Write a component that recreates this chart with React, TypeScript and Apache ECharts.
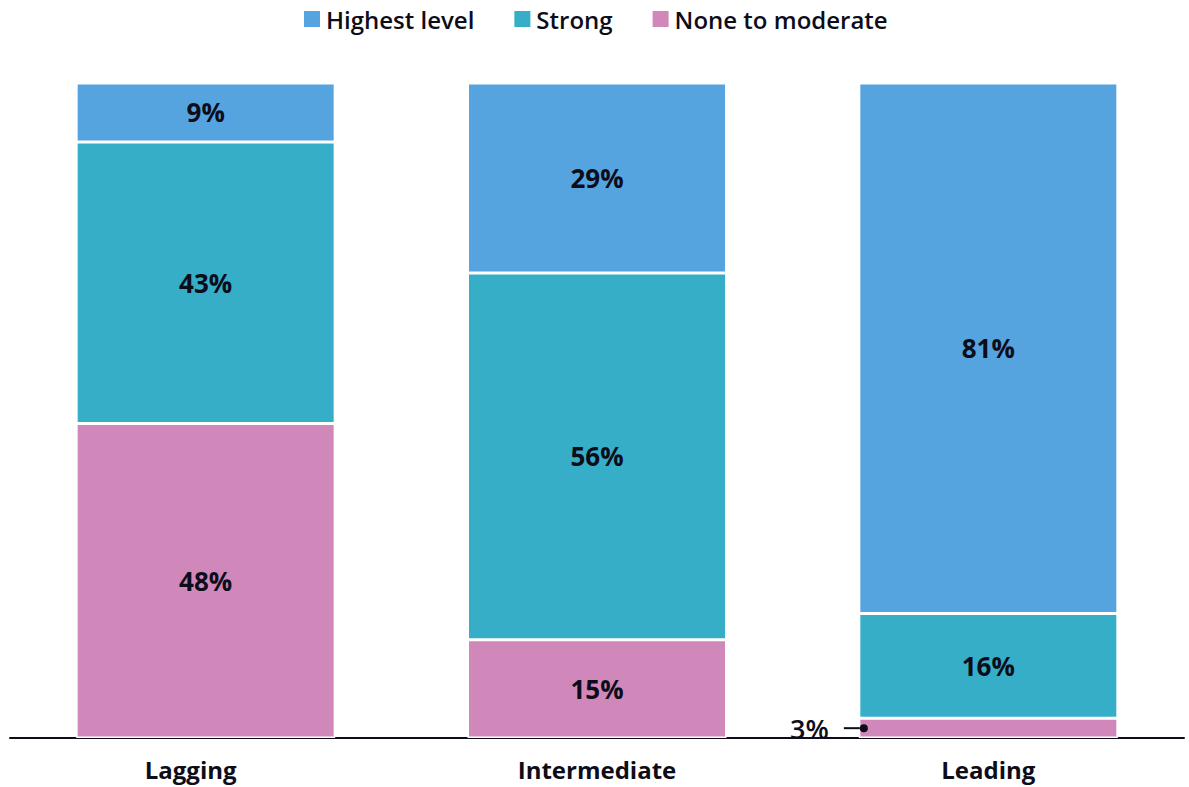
import React, { useEffect, useRef } from "react";
import * as echarts from "echarts";

const categories = ["Lagging", "Intermediate", "Leading"];
const seriesNames = ["Highest level", "Strong", "None to moderate"];
const highestLevel = [9, 29, 81];
const strong = [43, 56, 16];
const noneToModerate = [48, 15, 3];
const colors = { high: "#55A4E0", strong: "#37AEC8", none: "#D088BB" };

const FONT = "'Open Sans', 'Noto Sans', sans-serif";
const TEXT = "#0d0d1a";

export default function App() {
  const ref = useRef<HTMLDivElement>(null);
  useEffect(() => {
    document.body.style.margin = "0";
    const chart = echarts.init(ref.current!, null, { renderer: "svg" });
    const inLabel = {
      show: true,
      position: "inside",
      formatter: "{c}%",
      fontFamily: FONT,
      fontSize: 26,
      fontWeight: "bold",
      color: TEXT,
    };
    const item = (c: string) => ({ color: c, borderColor: "#fff", borderWidth: 1.5 });
    const noneData = noneToModerate.map((v) =>
      v < 5
        ? {
            value: v,
            label: {
              show: true,
              position: "left",
              distance: -9,
              fontSize: 27,
              fontWeight: 600,
              formatter: "{v|" + v + "%} {l|}{d|}",
              rich: {
                v: { fontFamily: FONT, fontSize: 27, fontWeight: 600, color: TEXT, padding: [0, 8, 0, 0] },
                l: { width: 16, height: 2, backgroundColor: TEXT },
                d: { width: 8, height: 8, borderRadius: 4, backgroundColor: TEXT },
              },
            },
          }
        : v
    );
    chart.setOption({
      animation: false,
      legend: {
        top: 2,
        left: 297,
        data: seriesNames,
        itemWidth: 18,
        itemHeight: 18,
        itemGap: 38,
        icon: "rect",
        textStyle: { fontFamily: FONT, fontSize: 24, fontWeight: 600, color: TEXT, padding: [0, 0, 0, 0] },
      },
      grid: { left: 10, right: 5, top: 83, bottom: 49 },
      xAxis: {
        type: "category",
        data: categories,
        axisTick: { show: false },
        axisLine: { lineStyle: { color: TEXT, width: 2 } },
        axisLabel: {
          fontFamily: FONT,
          fontSize: 24,
          fontWeight: "bold",
          color: TEXT,
          margin: 19,
          formatter: (v: string, i: number) => (i === 0 ? "{a|" + v + "}" : v),
          rich: { a: { fontFamily: FONT, fontSize: 24, fontWeight: "bold", color: TEXT, padding: [0, 30, 0, 0] } },
        },
      },
      yAxis: { type: "value", min: 0, max: 100, show: false, splitLine: { show: false } },
      series: [
        { name: "None to moderate", type: "bar", stack: "a", barWidth: 259, data: noneData, itemStyle: item(colors.none), label: inLabel },
        { name: "Strong", type: "bar", stack: "a", barWidth: 259, data: strong, itemStyle: item(colors.strong), label: inLabel },
        { name: "Highest level", type: "bar", stack: "a", barWidth: 259, data: highestLevel, itemStyle: item(colors.high), label: inLabel },
      ],
    });
    return () => chart.dispose();
  }, []);
  return <div ref={ref} style={{ position: "absolute", left: 0, top: 0, width: 1189, height: 787 }} />;
}
